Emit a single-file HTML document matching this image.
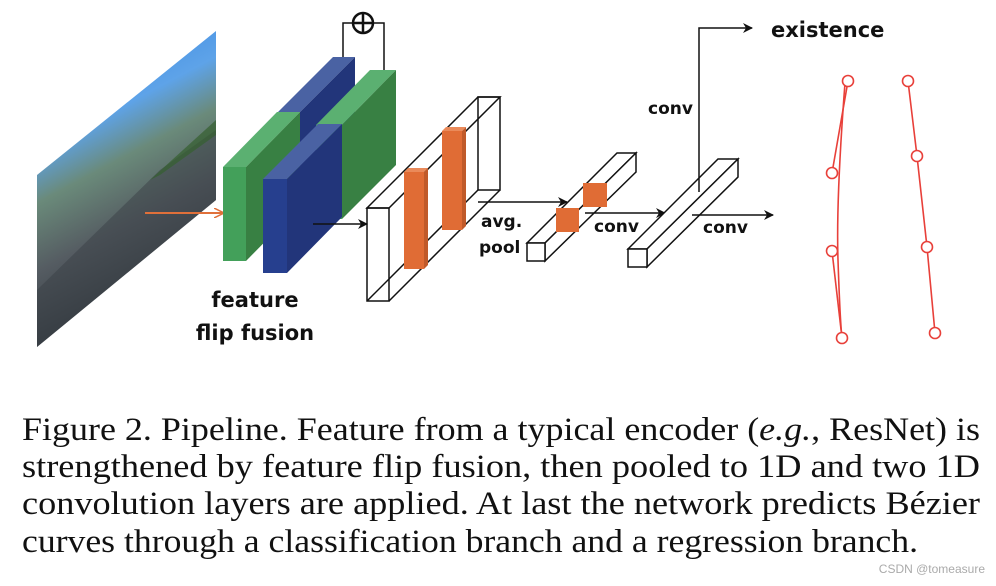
<!DOCTYPE html>
<html><head><meta charset="utf-8"><style>
html,body{margin:0;padding:0;background:#fff;width:996px;height:586px;overflow:hidden}
svg{display:block}
.s{font-family:"DejaVu Sans","Liberation Sans",sans-serif;font-weight:bold;fill:#111}
.c{font-family:"Liberation Serif",serif;font-size:33px;fill:#111}
</style></head><body>
<svg width="996" height="586" viewBox="0 0 996 586" xmlns="http://www.w3.org/2000/svg">
<defs>
<linearGradient id="img" x1="0" y1="0" x2="0.3" y2="1">
<stop offset="0" stop-color="#2f7fe0"/><stop offset="0.35" stop-color="#5ea3e8"/>
<stop offset="0.5" stop-color="#6a8a7a"/><stop offset="0.7" stop-color="#555c62"/><stop offset="1" stop-color="#2a3036"/>
</linearGradient>
<marker id="ah" markerWidth="10" markerHeight="10" refX="9" refY="5" orient="auto" markerUnits="userSpaceOnUse"><path d="M0,0 L10,5 L0,10 L3,5z" fill="#111"/></marker>
<marker id="ao" markerWidth="10" markerHeight="10" refX="9" refY="5" orient="auto" markerUnits="userSpaceOnUse"><path d="M0,0 L10,5 L0,10" fill="none" stroke="#e0703a" stroke-width="1.5"/></marker>
</defs>
<polygon points="37,175 216,31 216,200 37,347" fill="url(#img)"/>
<polygon points="160,170 216,130 216,200 37,347 37,290" fill="#3a4046" opacity="0.5"/>
<polygon points="150,180 216,120 216,135 160,175" fill="#35602f" opacity="0.7"/>
<line x1="145" y1="213" x2="223" y2="213" stroke="#e0703a" stroke-width="2" marker-end="url(#ao)"/>
<polyline points="343,57 343,23 384,23 384,70" fill="none" stroke="#111" stroke-width="1.5"/>
<circle cx="363" cy="23" r="10" fill="#fff" stroke="#111" stroke-width="2.5"/>
<line x1="353" y1="23" x2="373" y2="23" stroke="#111" stroke-width="2.5"/>
<line x1="363" y1="13" x2="363" y2="33" stroke="#111" stroke-width="2.5"/>
<polygon points="278,112 300,112 355,57 333,57" fill="#4a62a3"/>
<polygon points="300,112 355,57 355,151 300,206" fill="#22357a"/>
<polygon points="223,167 246,167 300,112 277,112" fill="#5bb071"/>
<polygon points="246,167 300,112 300,206 246,261" fill="#388043"/>
<rect x="223" y="167" width="23" height="94" fill="#43a05a"/>
<polygon points="316,125 342,125 396,70 370,70" fill="#5bb071"/>
<polygon points="342,125 396,70 396,165 342,219" fill="#388043"/>
<rect x="316" y="125" width="26" height="94" fill="#43a05a"/>
<polygon points="263,179 287,179 342,124 318,124" fill="#4a62a3"/>
<polygon points="287,179 342,124 342,217 287,273" fill="#22357a"/>
<rect x="263" y="179" width="24" height="94" fill="#263f8e"/>
<line x1="313" y1="224" x2="367" y2="224" stroke="#111" stroke-width="1.5" marker-end="url(#ah)"/>
<text class="s" x="255" y="307" font-size="21" text-anchor="middle">feature</text>
<text class="s" x="255" y="340" font-size="21" text-anchor="middle">flip fusion</text>
<g fill="none" stroke="#111" stroke-width="1.5">
<polygon points="367,208 389,208 500,97 478,97"/>
<polygon points="478,97 500,97 500,190 478,190"/>
<line x1="389" y1="301" x2="500" y2="190"/>
<line x1="367" y1="301" x2="478" y2="190"/>
</g>
<rect x="404" y="172" width="20" height="97" fill="#e06c35"/>
<polygon points="404,172 424,172 428,168 408,168" fill="#ea8a5a"/>
<rect x="442" y="131" width="20" height="99" fill="#e06c35"/>
<polygon points="442,131 462,131 466,127 446,127" fill="#ea8a5a"/>
<polygon points="424,172 428,168 428,265 424,269" fill="#c05a2a"/>
<polygon points="462,131 466,127 466,226 462,230" fill="#c05a2a"/>
<g fill="none" stroke="#111" stroke-width="1.5">
<rect x="367" y="208" width="22" height="93"/>
</g>
<line x1="478" y1="202" x2="567" y2="202" stroke="#111" stroke-width="1.5" marker-end="url(#ah)"/>
<text class="s" x="481" y="227" font-size="17">avg.</text>
<text class="s" x="479" y="253" font-size="17">pool</text>
<g stroke="#111" stroke-width="1.5" fill="#fff">
<polygon points="527,243 545,243 636,153 617,153"/>
<polygon points="545,243 636,153 636,172 545,261"/>
<rect x="527" y="243" width="18" height="18"/>
</g>
<rect x="556" y="208" width="23" height="24" fill="#e06c35"/>
<rect x="583" y="183" width="24" height="24" fill="#e06c35"/>
<line x1="585" y1="213" x2="665" y2="213" stroke="#111" stroke-width="1.5" marker-end="url(#ah)"/>
<text class="s" x="594" y="232" font-size="17">conv</text>
<g stroke="#111" stroke-width="1.5" fill="#fff">
<polygon points="628,249 647,249 738,159 718,159"/>
<polygon points="647,249 738,159 738,177 647,267"/>
<rect x="628" y="249" width="19" height="18"/>
</g>
<polyline points="699,192 699,28 752,28" fill="none" stroke="#111" stroke-width="1.5" marker-end="url(#ah)"/>
<text class="s" x="648" y="114" font-size="17">conv</text>
<text class="s" x="771" y="37" font-size="21">existence</text>
<line x1="692" y1="215" x2="773" y2="215" stroke="#111" stroke-width="1.5" marker-end="url(#ah)"/>
<text class="s" x="703" y="233" font-size="17">conv</text>
<g fill="none" stroke="#e8403a" stroke-width="1.6">
<polyline points="848,81 832,173"/>
<polyline points="832,251 842,338"/>
<path d="M845,83 Q836,200 838,260 T842,338"/>
<polyline points="908,81 917,156 927,247 935,333"/>
<circle cx="848" cy="81" r="5.5" fill="#fff"/>
<circle cx="832" cy="173" r="5.5" fill="#fff"/>
<circle cx="832" cy="251" r="5.5" fill="#fff"/>
<circle cx="842" cy="338" r="5.5" fill="#fff"/>
<circle cx="908" cy="81" r="5.5" fill="#fff"/>
<circle cx="917" cy="156" r="5.5" fill="#fff"/>
<circle cx="927" cy="247" r="5.5" fill="#fff"/>
<circle cx="935" cy="333" r="5.5" fill="#fff"/>
</g>
<text class="c" x="22" y="440" textLength="958" lengthAdjust="spacingAndGlyphs">Figure 2. Pipeline. Feature from a typical encoder (<tspan font-style="italic">e.g.</tspan>, ResNet) is</text>
<text class="c" x="22" y="477" textLength="958" lengthAdjust="spacingAndGlyphs">strengthened by feature flip fusion, then pooled to 1D and two 1D</text>
<text class="c" x="22" y="514" textLength="958" lengthAdjust="spacingAndGlyphs">convolution layers are applied. At last the network predicts Bézier</text>
<text class="c" x="22" y="552" textLength="896" lengthAdjust="spacingAndGlyphs">curves through a classification branch and a regression branch.</text>
<text x="985" y="573" font-family="Liberation Sans,sans-serif" font-size="12" fill="#aaa" text-anchor="end">CSDN @tomeasure</text>
</svg>
</body></html>
